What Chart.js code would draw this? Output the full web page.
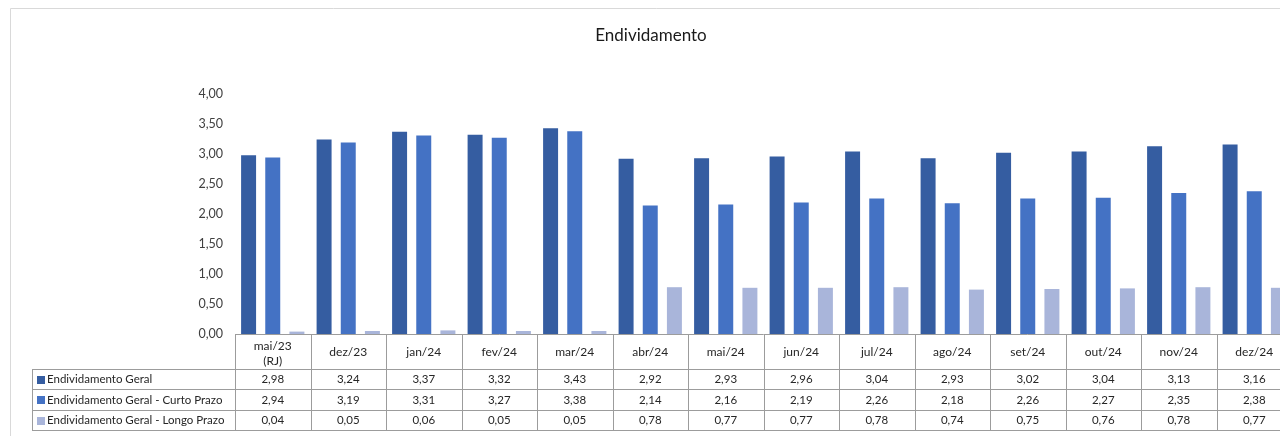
<!DOCTYPE html>
<html>
<head>
<meta charset="utf-8">
<script src="https://cdn.jsdelivr.net/npm/chart.js@4.4.0/dist/chart.umd.min.js"></script>
<style>
  html, body { margin: 0; padding: 0; background: #fff; overflow: hidden; }
  #wrap { position: absolute; left: 0; top: 0; }
</style>
</head>
<body>
<div id="wrap"><canvas id="chart" width="1302" height="436"></canvas></div>
<script>
// dados
const categorias = [['mai/23', '(RJ)'], 'dez/23', 'jan/24', 'fev/24', 'mar/24', 'abr/24', 'mai/24',
                    'jun/24', 'jul/24', 'ago/24', 'set/24', 'out/24', 'nov/24', 'dez/24'];
const endivGeral  = [2.98, 3.24, 3.37, 3.32, 3.43, 2.92, 2.93, 2.96, 3.04, 2.93, 3.02, 3.04, 3.13, 3.16];
const endivCurto  = [2.94, 3.19, 3.31, 3.27, 3.38, 2.14, 2.16, 2.19, 2.26, 2.18, 2.26, 2.27, 2.35, 2.38];
const endivLongo  = [0.04, 0.05, 0.06, 0.05, 0.05, 0.78, 0.77, 0.77, 0.78, 0.74, 0.75, 0.76, 0.78, 0.77];
const nomesSeries = ['Endividamento Geral', 'Endividamento Geral - Curto Prazo', 'Endividamento Geral - Longo Prazo'];
const coresSeries = ['#355da1', '#4472c4', '#a9b5da'];

const FONTE = 'Lato, "Open Sans", sans-serif';

function fmt (v)
{
   return v.toFixed(2).replace('.', ',');
}

// moldura cinza do grafico (como no Excel)
const moldura = {
   id: 'moldura',
   beforeDraw (chart)
   {
      let ctx = chart.ctx;
      ctx.save();
      ctx.strokeStyle = '#d9d9d9';
      ctx.lineWidth = 1;
      ctx.beginPath();
      ctx.moveTo(10.5, chart.height);
      ctx.lineTo(10.5, 8.5);
      ctx.lineTo(chart.width, 8.5);
      ctx.stroke();
      ctx.restore();
   }
};

// tabela de dados abaixo do eixo x
const tabelaDados = {
   id: 'tabelaDados',
   afterDraw (chart)
   {
      let ctx = chart.ctx,
          x = chart.scales.x,
          area = chart.chartArea,
          n = chart.data.labels.length,
          w = (x.right - x.left) / n,
          top = area.bottom,
          headBottom = top + 35,
          rowH = 20.4,
          legLeft = 32,
          right = x.right,
          bottom = headBottom + rowH * 3;

      ctx.save();
      ctx.strokeStyle = '#9c9c9c';
      ctx.lineWidth = 1;
      ctx.beginPath();
      ctx.moveTo(x.left, Math.round(top) + 0.5);
      ctx.lineTo(right, Math.round(top) + 0.5);
      for (let r = 0; r <= 3; r++)
      {
         let yy = Math.round(headBottom + r * rowH) + 0.5;
         ctx.moveTo(legLeft, yy);
         ctx.lineTo(right, yy);
      }
      ctx.moveTo(legLeft + 0.5, headBottom);
      ctx.lineTo(legLeft + 0.5, bottom);
      for (let i = 0; i <= n; i++)
      {
         let xx = Math.round(x.left + i * w) + 0.5;
         ctx.moveTo(xx, top);
         ctx.lineTo(xx, bottom);
      }
      ctx.stroke();

      ctx.fillStyle = '#262626';
      ctx.font = '11.5px ' + FONTE;
      ctx.textAlign = 'center';
      ctx.textBaseline = 'middle';

      // cabecalho com as categorias
      ctx.font = '12px ' + FONTE;
      for (let i = 0; i < n; i++)
      {
         let cx = x.getPixelForValue(i),
             lab = chart.data.labels[i];
         if (Array.isArray(lab))
         {
            ctx.fillText(lab[0], cx, top + 12.5);
            ctx.fillText(lab[1], cx, top + 27);
         }
         else
            ctx.fillText(lab, cx, top + 18.5);
      }

      // linhas de valores
      ctx.font = '11.5px ' + FONTE;
      chart.data.datasets.forEach(function (ds, r)
      {
         let cy = headBottom + r * rowH + rowH / 2 + 0.5;
         ctx.textAlign = 'center';
         ctx.fillStyle = '#262626';
         for (let i = 0; i < n; i++)
            ctx.fillText(fmt(ds.data[i]), x.getPixelForValue(i), cy);
         ctx.fillStyle = ds.backgroundColor;
         ctx.fillRect(37, Math.round(cy - 4), 8, 8);
         ctx.fillStyle = '#262626';
         ctx.textAlign = 'left';
         ctx.fillText(ds.label, 47, cy);
      });
      ctx.restore();
   }
};

let ctx = document.getElementById('chart');
let chart = new Chart(ctx, {
   type: 'bar',
   data: {
      labels: categorias,
      datasets: [
         { label: nomesSeries[0], data: endivGeral, backgroundColor: coresSeries[0] },
         { label: nomesSeries[1], data: endivCurto, backgroundColor: coresSeries[1] },
         { label: nomesSeries[2], data: endivLongo, backgroundColor: coresSeries[2] }
      ]
   },
   options: {
      responsive: false,
      animation: false,
      categoryPercentage: 0.96,
      barPercentage: 0.62,
      layout: { padding: { left: 10, right: 10, top: 0, bottom: 102 } },
      plugins: {
         legend: { display: false },
         tooltip: { enabled: false },
         title: {
            display: true,
            text: 'Endividamento',
            color: '#1a1a1a',
            font: { family: FONTE, size: 17, weight: 'normal' },
            padding: { top: 25, bottom: 48.6 }
         }
      },
      scales: {
         x: { display: false },
         y: {
            min: 0,
            max: 4,
            afterFit: function (scale) { scale.width = 225; },
            grid: { display: false },
            border: { display: false },
            ticks: {
               stepSize: 0.5,
               padding: 4,
               color: '#404040',
               font: { family: FONTE, size: 12.5 },
               callback: function (v) { return fmt(v); }
            }
         }
      }
   },
   plugins: [moldura, tabelaDados]
});
</script>
</body>
</html>
